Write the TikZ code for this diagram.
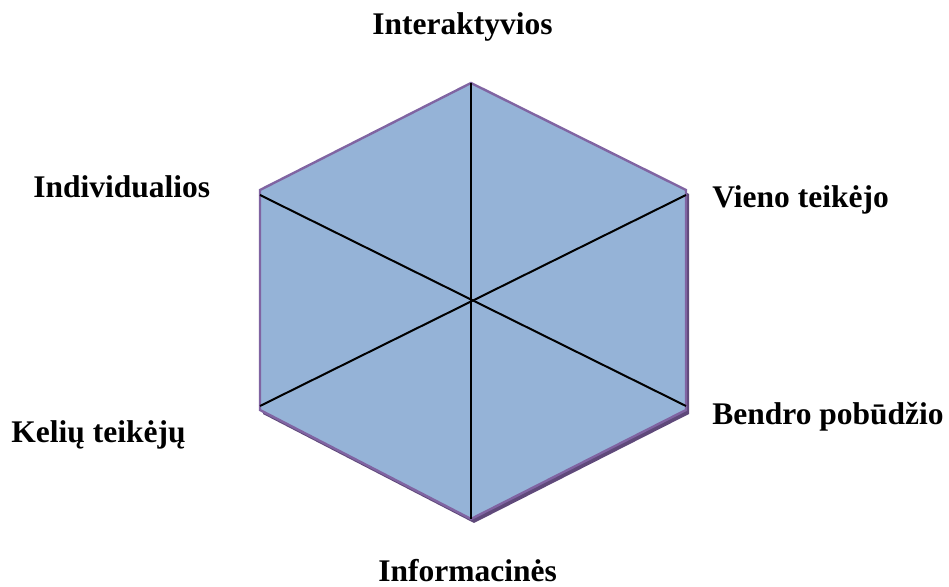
\documentclass[tikz,border=0pt]{standalone}
\usepackage{fontspec}
\setmainfont{Liberation Serif}
\begin{document}
\begin{tikzpicture}[x=0.5pt,y=-0.5pt,
  hexfill/.style={fill={rgb,255:red,149;green,179;blue,215}, draw={rgb,255:red,128;green,100;blue,162}, line width=1.2pt, line join=miter},
  hexshadow/.style={fill={rgb,255:red,95;green,73;blue,122}},
  spoke/.style={draw=black, line width=1pt},
  lbl/.style={inner sep=0pt, anchor=base west, font=\fontsize{15.75}{19}\selectfont\bfseries}]
\useasboundingbox (0,0) rectangle (949,587);
% corners of the hexagon
\coordinate (T) at (471,83);
\coordinate (UR) at (686,190);
\coordinate (LR) at (686,410);
\coordinate (B) at (471,519);
\coordinate (LL) at (260,410);
\coordinate (UL) at (260,190);
% ends of the spokes
\coordinate (sUL) at (260,195);
\coordinate (sLR) at (686,406);
\coordinate (sLL) at (260,406);
\coordinate (sUR) at (686,195);
% drop shadow
\fill[hexshadow] ([shift={(3,4)}]T) -- ([shift={(3,4)}]UR) -- ([shift={(3,4)}]LR) -- ([shift={(3,4)}]B) -- ([shift={(3,4)}]LL) -- ([shift={(3,4)}]UL) -- cycle;
% hexagon body
\path[hexfill] (T) -- (UR) -- (LR) -- (B) -- (LL) -- (UL) -- cycle;
% spokes through the centre
\draw[spoke] (T) -- (B);
\draw[spoke] (sUL) -- (sLR);
\draw[spoke] (sLL) -- (sUR);
% labels
\node[lbl] (top) at (372,35) {Interaktyvios};
\node[lbl] (ul) at (33,198) {Individualios};
\node[lbl] (ur) at (712,208) {Vieno teikėjo};
\node[lbl] (lr) at (712,425) {Bendro pobūdžio};
\node[lbl] (ll) at (11,443) {Kelių teikėjų};
\node[lbl] (bot) at (378,582) {Informacinės};
\end{tikzpicture}
\end{document}
